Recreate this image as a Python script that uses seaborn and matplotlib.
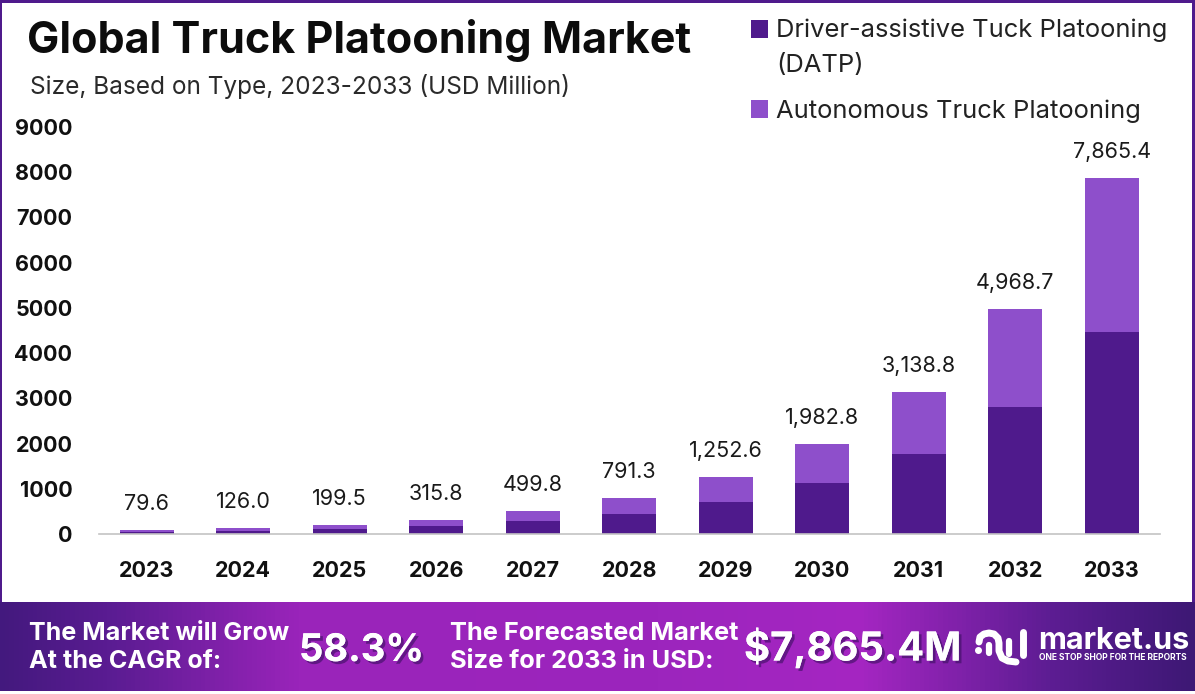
import numpy as np
import pandas as pd
import seaborn as sns
import matplotlib.pyplot as plt
from matplotlib.colors import LinearSegmentedColormap
from matplotlib.patches import Rectangle
import matplotlib.patheffects as pe

years = ['2023', '2024', '2025', '2026', '2027', '2028', '2029', '2030', '2031', '2032', '2033']
total = [79.6, 126.0, 199.5, 315.8, 499.8, 791.3, 1252.6, 1982.8, 3138.8, 4968.7, 7865.4]
datp = [45, 71, 113, 179, 283, 448, 710, 1124, 1779, 2816, 4458]
total_labels = ['79.6', '126.0', '199.5', '315.8', '499.8', '791.3', '1,252.6', '1,982.8', '3,138.8', '4,968.7', '7,865.4']
y_ticks = [0, 1000, 2000, 3000, 4000, 5000, 6000, 7000, 8000, 9000]

DARK = '#4f1a8c'
LIGHT = '#8e4fcb'
W, H = 1195, 694

df = pd.DataFrame({'year': years, 'datp': datp, 'total': total})
df['auto'] = df['total'] - df['datp']

sns.set_theme(style='white')
plt.rcParams['font.family'] = ['Inter', 'DejaVu Sans']

fig = plt.figure(figsize=(W / 100, H / 100), dpi=100, facecolor='white')

# chart area, 0 sits at y=534 and 9000 at y=127
ax = fig.add_axes([98.5 / W, 1 - 534 / H, (1160 - 98.5) / W, (534 - 127) / H])
sns.barplot(data=df, x='year', y='datp', color=DARK, width=0.56, saturation=1, linewidth=0, ax=ax,
            label='Driver-assistive Tuck Platooning\n(DATP)')
sns.barplot(data=df, x='year', y='auto', bottom=df['datp'], color=LIGHT, width=0.56, saturation=1, linewidth=0, ax=ax,
            label='Autonomous Truck Platooning')
ax.set_ylim(0, 9000)
ax.set_xlim(-0.5, 10.5)
ax.set_xlabel('')
ax.set_ylabel('')
ax.set_yticks(y_ticks)
sns.despine(ax=ax, left=True)
ax.spines['bottom'].set_color('#c4c4c4')
ax.spines['bottom'].set_linewidth(1.2)
ax.tick_params(axis='x', length=0, pad=19.7)
ax.tick_params(axis='y', length=0, pad=18.8)
for lab in ax.get_xticklabels() + ax.get_yticklabels():
    lab.set_fontsize(15.5)
    lab.set_fontweight('bold')
    lab.set_color('#111111')

for i, t in enumerate(total):
    ax.annotate(total_labels[i], (i, t), xytext=(0, 16), textcoords='offset pixels',
                ha='center', va='bottom', fontsize=15.5, color='#1a1a1a')

leg = ax.legend(loc='upper left', bbox_to_anchor=(751 / W, 1 - 18 / H), bbox_transform=fig.transFigure,
                frameon=False, fontsize=18.4, handlelength=0.67, handleheight=0.67,
                handletextpad=0.32, labelspacing=0.87, borderpad=0, borderaxespad=0)
for txt in leg.get_texts():
    txt.set_color('#222222')
    txt.set_linespacing(1.7)
# square sits on the first line of the wrapped label
leg.get_patches()[0].set_y(13.5)

# overlay in pixel coordinates for title, border and banner
ov = fig.add_axes([0, 0, 1, 1], zorder=5)
ov.set_xlim(0, W)
ov.set_ylim(H, 0)
ov.axis('off')
ov.patch.set_alpha(0)

ov.add_patch(Rectangle((0, 0), W, 2.5, color=DARK, lw=0))
ov.add_patch(Rectangle((0, 0), 2, 602, color=DARK, lw=0))
ov.add_patch(Rectangle((W - 2.5, 0), 2.5, 602, color=DARK, lw=0))

ov.text(27, 40, 'Global Truck Platooning Market', fontsize=31, fontweight='bold', color='#0c0c0c',
        ha='left', va='center')
ov.text(30, 86, 'Size, Based on Type, 2023-2033 (USD Million)', fontsize=17.6, color='#2a2a2a',
        ha='left', va='center')

# banner
cmap = LinearSegmentedColormap.from_list('banner', [
    (0, '#43197e'), (0.09, '#5a1c92'), (0.25, '#9a24ba'), (0.55, '#9c25bd'),
    (0.72, '#a526c2'), (0.88, '#5d1d93'), (1, '#3d1875')])
ov.imshow(np.linspace(0, 1, 256)[None, :], cmap=cmap, extent=(0, W, 691, 602), aspect='auto', zorder=1)
ov.set_xlim(0, W)
ov.set_ylim(H, 0)

shadow = [pe.withSimplePatchShadow(offset=(2, -2), shadow_rgbFace='#3a0f60', alpha=0.6), pe.Normal()]
ov.text(29, 633, 'The Market will Grow', fontsize=18.1, fontweight='bold', color='white', va='center', zorder=3)
ov.text(29, 662, 'At the CAGR of:', fontsize=18.1, fontweight='bold', color='white', va='center', zorder=3)
ov.text(299, 651, '58.3%', fontsize=27.4, fontweight='bold', color='white', va='center', zorder=3, path_effects=shadow)
ov.text(450, 633, 'The Forecasted Market', fontsize=18.3, fontweight='bold', color='white', va='center', zorder=3)
ov.text(450, 662, 'Size for 2033 in USD:', fontsize=18.3, fontweight='bold', color='white', va='center', zorder=3)
ov.text(744, 648, '$7,865.4M', fontsize=28.7, fontweight='bold', color='white', va='center', zorder=3, path_effects=shadow)

# market.us logo
logo_x = [979, 980, 984, 989, 994, 998, 999, 999, 1002, 1008, 1016]
logo_y = [642, 637, 634, 633, 634, 638, 643, 651, 658, 661, 662]
ov.plot(logo_x, logo_y, color='white', lw=5, solid_capstyle='round', solid_joinstyle='round', zorder=3)
ov.plot([989, 989], [645, 653], color='white', lw=4.5, solid_capstyle='round', zorder=3)
ov.plot([1009, 1009], [641, 654], color='white', lw=4.5, solid_capstyle='round', zorder=3)
ov.plot([1023, 1023], [632, 655], color='white', lw=5, solid_capstyle='round', zorder=3)
ov.plot([978], [650], marker='o', ms=4, color='white', zorder=3)
ov.text(1038, 641, 'market.us', fontsize=22, fontweight='bold', color='white', va='center', zorder=3)
ov.text(1039, 658, 'ONE STOP SHOP FOR THE REPORTS', fontsize=6.1, fontweight='bold', color='white', va='center', zorder=3)

fig.savefig('out.png', dpi=100)
